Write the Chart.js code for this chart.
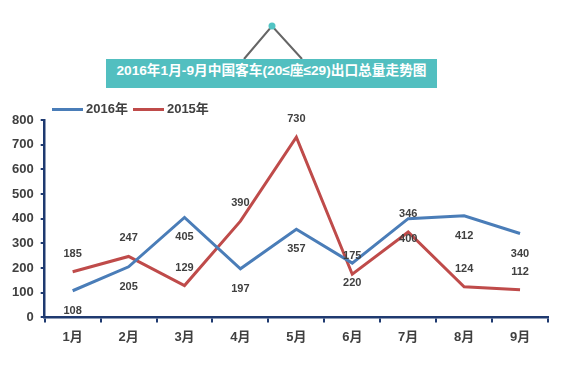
<!DOCTYPE html>
<html>
<head>
<meta charset="utf-8">
<script src="https://cdn.jsdelivr.net/npm/chart.js@4/dist/chart.umd.min.js"></script>
<style>
  html, body { margin: 0; padding: 0; background: #fff; }
  #wrap { position: relative; width: 573px; height: 367px; overflow: hidden; }
  #exportChart { position: absolute; left: 0; top: 0; }
  #roof { position: absolute; left: 0; top: 0; }
  #banner {
    position: absolute; left: 106px; top: 59px; width: 331px; height: 29px;
    background: #52bfc0; color: #fff; text-align: center; line-height: 29px;
    font: bold 13.7px 'Liberation Sans', 'Noto Sans CJK SC', sans-serif;
  }
  #legend {
    position: absolute; left: 52px; top: 98px; height: 16px; line-height: 16px;
    font: bold 13px 'Liberation Sans', 'Noto Sans CJK SC', sans-serif; color: #404040;
    white-space: nowrap;
  }
  #legend .item { display: inline-block; margin-right: 5px; }
  #legend .swatch { display: inline-block; width: 31px; height: 3px; vertical-align: middle; margin-right: 3px; }
</style>
</head>
<body>
<div id="wrap">
  <canvas id="exportChart" width="573" height="367"></canvas>
  <svg id="roof" width="573" height="100">
    <polyline points="244,59 272,26 302,59" fill="none" stroke="#666" stroke-width="2"/>
    <circle cx="272" cy="26" r="3.5" fill="#52c4c4"/>
  </svg>
  <div id="banner">2016年1月-9月中国客车(20≤座≤29)出口总量走势图</div>
  <div id="legend"></div>
</div>
<script>
const months = ['1月', '2月', '3月', '4月', '5月', '6月', '7月', '8月', '9月'];
const units2016 = [108, 205, 405, 197, 357, 220, 400, 412, 340];
const units2015 = [185, 247, 129, 390, 730, 175, 346, 124, 112];
const yMax = 800;
const yStep = 100;

const axisColor = '#1f3a70';
const textColor = '#404040';
Chart.defaults.font.family = "'Liberation Sans', 'Noto Sans CJK SC', sans-serif";

// value labels: 2016 below the line, 2015 above it
const valueLabels = {
  id: 'valueLabels',
  afterDatasetsDraw(chart) {
    const { ctx } = chart;
    ctx.save();
    ctx.font = "bold 11px 'Liberation Sans', sans-serif";
    ctx.fillStyle = textColor;
    ctx.textAlign = 'center';
    ctx.textBaseline = 'middle';
    chart.data.datasets.forEach((ds, i) => {
      const meta = chart.getDatasetMeta(i);
      meta.data.forEach((pt, j) => {
        ctx.fillText(ds.data[j], pt.x, pt.y + ds.labelOffset);
      });
    });
    ctx.restore();
  }
};

const chart = new Chart(document.getElementById('exportChart'), {
  type: 'line',
  data: {
    labels: months,
    datasets: [
      {
        label: '2016年',
        data: units2016,
        borderColor: '#4a7db8',
        backgroundColor: '#4a7db8',
        borderWidth: 3,
        pointRadius: 0,
        tension: 0,
        labelOffset: 20
      },
      {
        label: '2015年',
        data: units2015,
        borderColor: '#bf4b4a',
        backgroundColor: '#bf4b4a',
        borderWidth: 3,
        pointRadius: 0,
        tension: 0,
        labelOffset: -18
      }
    ]
  },
  options: {
    responsive: false,
    animation: false,
    layout: { padding: { top: 120, left: 5, right: 25, bottom: 15 } },
    scales: {
      x: {
        offset: true,
        grid: { offset: true, drawOnChartArea: false, color: axisColor, lineWidth: 2, tickLength: 5 },
        border: { color: axisColor, width: 2.5 },
        ticks: { color: textColor, padding: 7, font: { size: 13, weight: 'bold' } }
      },
      y: {
        min: 0,
        max: yMax,
        grid: { drawOnChartArea: false, color: axisColor, lineWidth: 2, tickLength: 4 },
        border: { color: axisColor, width: 2.5 },
        ticks: { stepSize: yStep, color: textColor, padding: 7, font: { size: 13, weight: 'bold' } }
      }
    },
    plugins: {
      legend: { display: false },
      tooltip: { enabled: false }
    }
  },
  plugins: [valueLabels]
});

// html legend built from the datasets
const legendEl = document.getElementById('legend');
chart.data.datasets.forEach(ds => {
  const item = document.createElement('span');
  item.className = 'item';
  const sw = document.createElement('span');
  sw.className = 'swatch';
  sw.style.background = ds.borderColor;
  item.appendChild(sw);
  item.appendChild(document.createTextNode(ds.label));
  legendEl.appendChild(item);
});
</script>
</body>
</html>
